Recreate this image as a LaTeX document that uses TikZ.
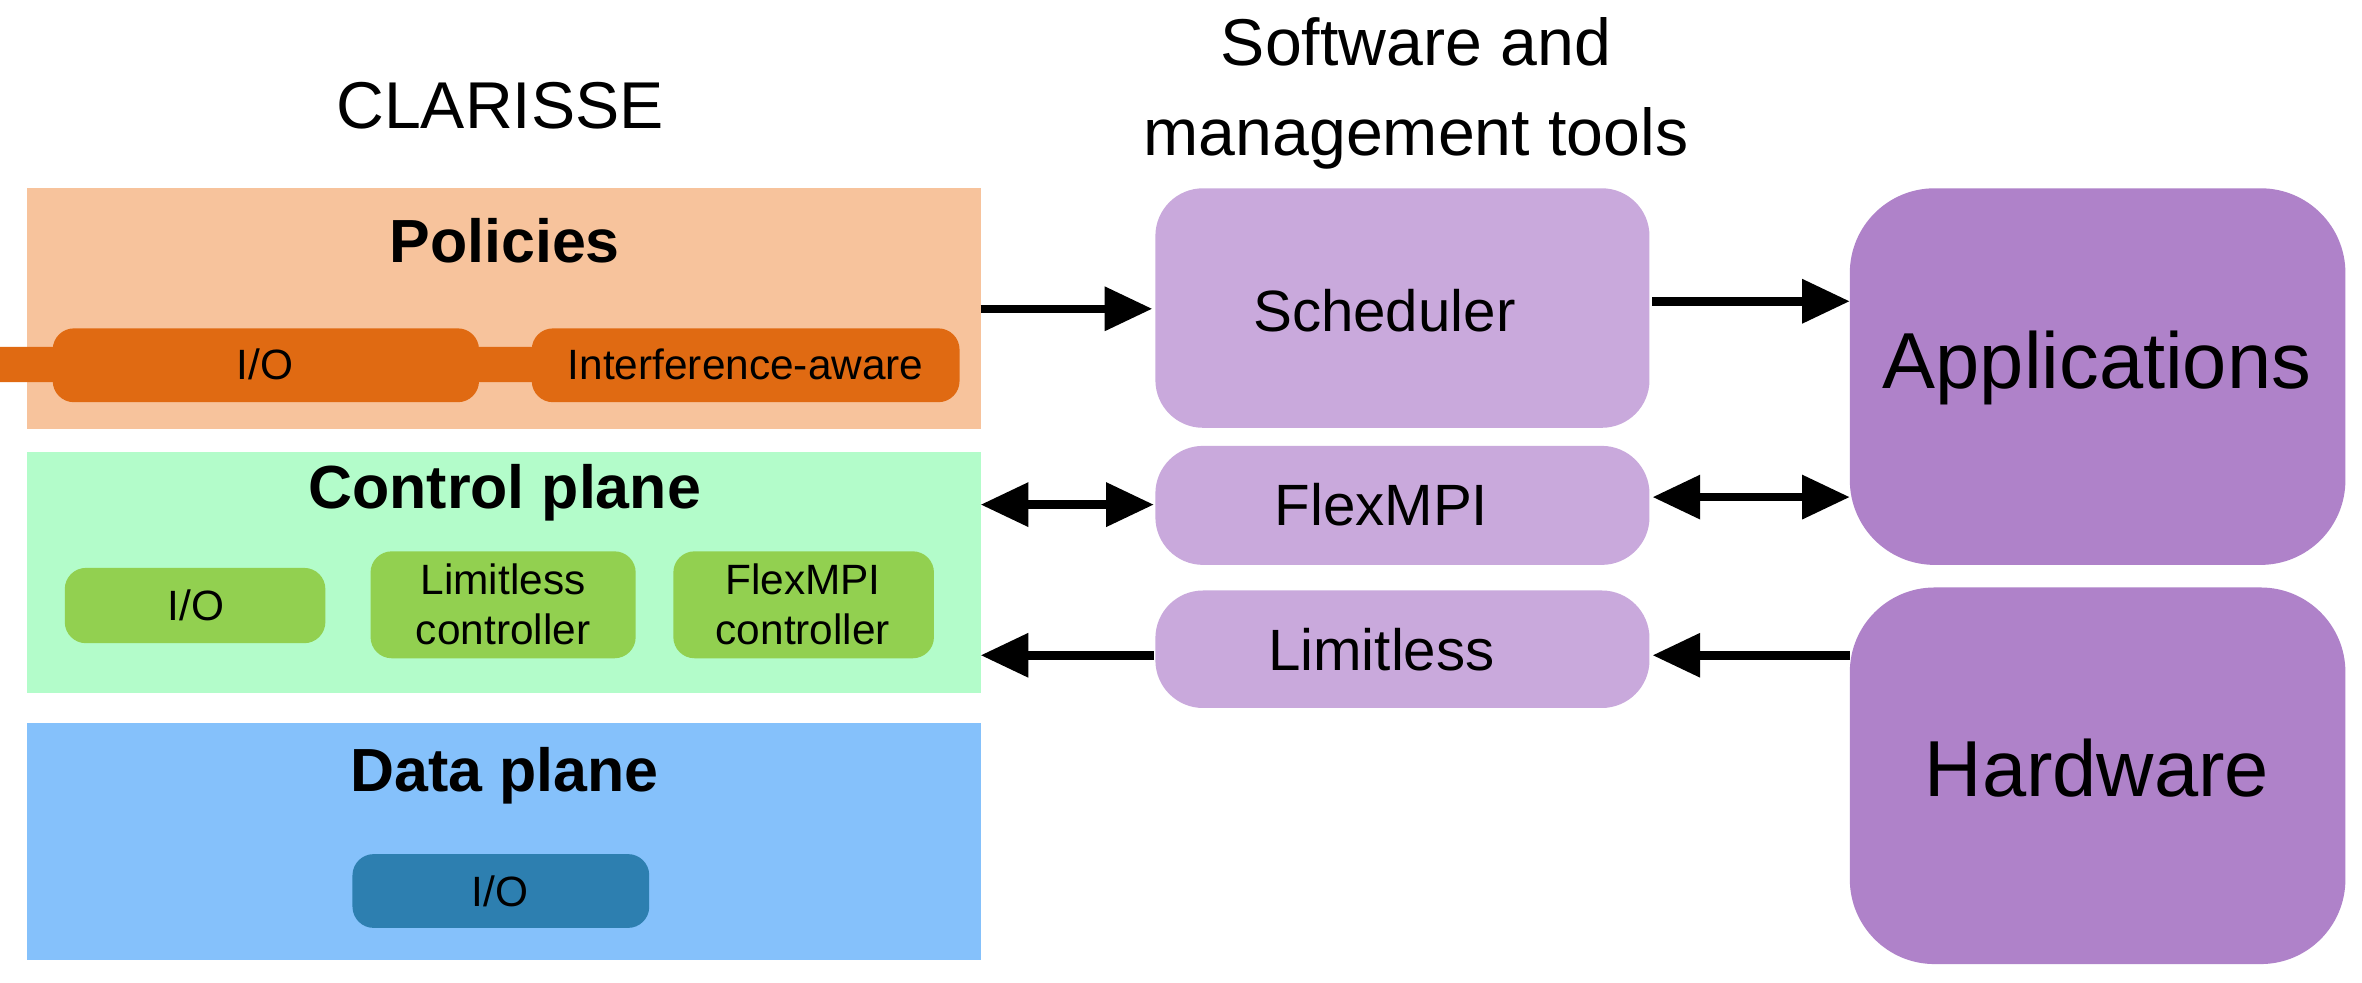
\documentclass[tikz,border=0pt]{standalone}
\usepackage{fontspec}
\setmainfont{Liberation Sans}
\usetikzlibrary{arrows.meta}
\begin{document}
\begin{tikzpicture}[x=0.01cm,y=-0.01cm,
 panel/.style={draw=none},
 inner/.style={rounded corners=4pt,font=\fontsize{8}{9.5}\selectfont,align=center},
 tool/.style={fill=toolc,rounded corners=9pt,font=\fontsize{11}{13}\selectfont},
 big/.style={fill=bigc,rounded corners=16pt,font=\fontsize{15}{18}\selectfont},
 ttl/.style={font=\bfseries\fontsize{11.5}{13}\selectfont},
 arr/.style={line width=1.6pt,-{Triangle[length=9pt,width=8pt]}},
 barr/.style={line width=1.6pt,{Triangle[length=9pt,width=8pt]}-{Triangle[length=9pt,width=8pt]}}]
\definecolor{polc}{HTML}{F7C39C}\definecolor{polin}{HTML}{E06A12}
\definecolor{ctlc}{HTML}{B3FCCA}\definecolor{ctlin}{HTML}{92D050}
\definecolor{datc}{HTML}{85C1FB}\definecolor{datin}{HTML}{2D7FB0}
\definecolor{toolc}{HTML}{C9A9DC}\definecolor{bigc}{HTML}{AF82C9}
\useasboundingbox (0,0) rectangle (1568,652);
\fill[fill=white] (0,0) rectangle (1568,652);
\node[font=\fontsize{12.5}{15}\selectfont] (clar) at (332,70) {CLARISSE};
\node[font=\fontsize{12.5}{17}\selectfont,align=center] (sw) at (940,62) {Software and\\management tools};
% panels
\path[fill=polc] (18,125) rectangle (651,285); \coordinate (polR) at (651,205);
\node[ttl] (pol) at (335,160) {Policies};
\node[inner,fill=polin,minimum width=283\pgflinewidth] (pio) at (176,242) {};
\path[fill=polin,rounded corners=4pt] (35,218) rectangle (318,267);
\node[inner] (pio) at (176,242) {I/O};
\path[fill=polin,rounded corners=4pt] (353,218) rectangle (637,267);
\node[inner] (pia) at (495,242) {Interference-aware};
\path[fill=ctlc] (18,300) rectangle (651,460);
\node[ttl] (ctl) at (335,327) {Control plane};
\path[fill=ctlin,rounded corners=4pt] (43,377) rectangle (216,427);
\node[inner] (cio) at (130,402) {I/O};
\path[fill=ctlin,rounded corners=4pt] (246,366) rectangle (422,437);
\node[inner] (clc) at (334,401) {Limitless\\controller};
\path[fill=ctlin,rounded corners=4pt] (447,366) rectangle (620,437);
\node[inner] (cfc) at (533,401) {FlexMPI\\controller};
\path[fill=datc] (18,480) rectangle (651,637);
\node[ttl] (dat) at (335,515) {Data plane};
\path[fill=datin,rounded corners=4pt] (234,567) rectangle (431,616);
\node[inner] (dio) at (332,592) {I/O};
% tools
\path[tool] (767,125) rectangle (1095,284); \node[font=\fontsize{11}{13}\selectfont] (sch) at (919,206) {Scheduler};
\path[tool] (767,296) rectangle (1095,375); \node[font=\fontsize{11}{13}\selectfont] (flx) at (917,335) {FlexMPI};
\path[tool] (767,392) rectangle (1095,470); \node[font=\fontsize{11}{13}\selectfont] (lim) at (917,431) {Limitless};
\path[big] (1228,125) rectangle (1557,375); \node[font=\fontsize{15}{18}\selectfont] (app) at (1392,244) {Applications};
\path[big] (1228,390) rectangle (1557,640); \node[font=\fontsize{15}{18}\selectfont] (hw) at (1392,510) {Hardware};
% arrows
\coordinate (a1) at (651,205); \coordinate (a2) at (765,205);
\coordinate (b1) at (1097,200); \coordinate (b2) at (1228,200);
\coordinate (c1) at (651,335); \coordinate (c2) at (766,335);
\coordinate (d1) at (1097,330); \coordinate (d2) at (1228,330);
\coordinate (e1) at (766,435); \coordinate (e2) at (651,435);
\coordinate (f1) at (1228,435); \coordinate (f2) at (1097,435);
\draw[arr] (a1) -- (a2);
\draw[arr] (b1) -- (b2);
\draw[barr] (c1) -- (c2);
\draw[barr] (d1) -- (d2);
\draw[arr] (e1) -- (e2);
\draw[arr] (f1) -- (f2);
\end{tikzpicture}
\end{document}
